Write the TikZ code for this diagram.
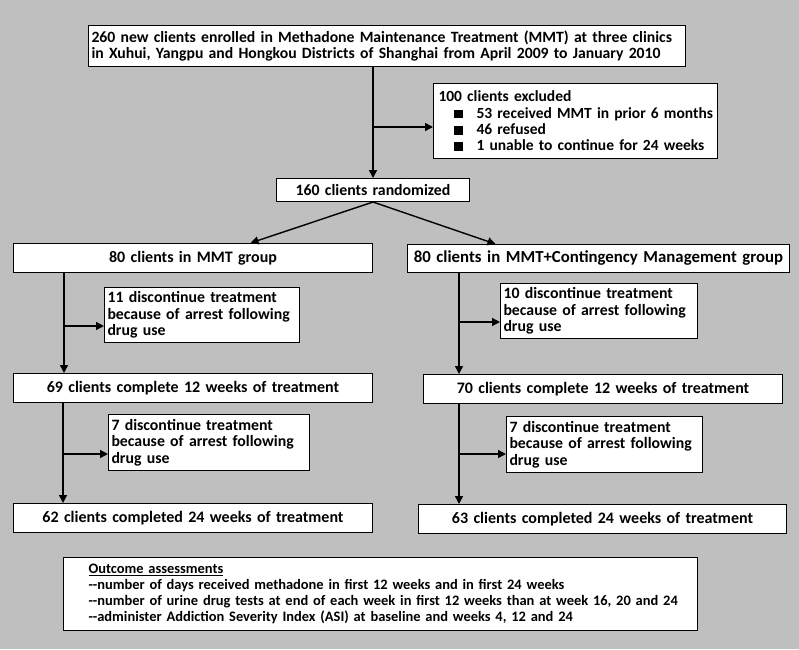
\documentclass[tikz,border=0pt]{standalone}
\usepackage{fontspec}
\setmainfont{Carlito}
\usetikzlibrary{arrows.meta}
\definecolor{bg}{RGB}{191,191,191}
\begin{document}
\begin{tikzpicture}[x=1pt,y=-1pt,
  box/.style={draw=black, fill=white, line width=1pt, inner xsep=3pt, inner ysep=0pt, anchor=north west, font=\bfseries\fontsize{15.8}{16.6}\selectfont},
  grp/.style={box, align=center, font=\bfseries\fontsize{16}{17}\selectfont},
  arr/.style={line width=1.4pt, -{Triangle[length=8pt,width=8pt]}}]
\fill[bg] (0,0) rectangle (799,649);
\useasboundingbox (0,0) rectangle (799,649);

\node[box, minimum width=597pt, minimum height=41pt, text width=591pt, align=left, font=\bfseries\fontsize{15.7}{16.7}\selectfont] (top) at (88,25)
 {260 new clients enrolled in Methadone Maintenance Treatment (MMT) at three clinics\\in Xuhui, Yangpu and Hongkou Districts of Shanghai from April 2009 to January 2010};

\newcommand{\sqbul}{\makebox[43pt][l]{\hspace*{20pt}\rule{9pt}{8.5pt}}}
\node[box, inner xsep=0pt, minimum width=284pt, minimum height=75pt, text width=284pt, align=left, font=\bfseries\fontsize{15.5}{16.3}\selectfont] (excl) at (433,83)
 {\hspace*{5pt}100 clients excluded\\
 \sqbul 53 received MMT in prior 6 months\\
 \sqbul 46 refused\\
 \sqbul 1 unable to continue for 24 weeks};

\node[box, minimum width=193pt, minimum height=23pt, text width=187pt, align=center] (rand) at (276,178) {160 clients randomized};

\node[grp, minimum width=359pt, minimum height=29pt, text width=353pt] (mmt) at (13,243) {80 clients in MMT group};
\node[grp, minimum width=382pt, minimum height=28pt, text width=376pt, font=\bfseries\fontsize{16.8}{17}\selectfont] (cm) at (407,244) {80 clients in MMT+Contingency Management group};

\node[box, minimum width=195pt, minimum height=55pt, text width=189pt, align=left] (d1L) at (104,287)
 {11 discontinue treatment\\because of arrest following\\drug use};
\node[box, minimum width=197pt, minimum height=55pt, text width=191pt, align=left] (d1R) at (500,283)
 {10 discontinue treatment\\because of arrest following\\drug use};

\node[grp, minimum width=359pt, minimum height=29pt, text width=353pt] (c12L) at (13,373) {69 clients complete 12 weeks of treatment};
\node[grp, minimum width=359pt, minimum height=29pt, text width=353pt] (c12R) at (423,374) {70 clients complete 12 weeks of treatment};

\node[box, minimum width=201pt, minimum height=56pt, text width=195pt, align=left] (d2L) at (108,414)
 {7 discontinue treatment\\because of arrest following\\drug use};
\node[box, minimum width=196pt, minimum height=56pt, text width=190pt, align=left] (d2R) at (506,416)
 {7 discontinue treatment\\because of arrest following\\drug use};

\node[grp, minimum width=359pt, minimum height=29pt, text width=353pt] (c24L) at (13,503) {62 clients completed 24 weeks of treatment};
\node[grp, minimum width=368pt, minimum height=29pt, text width=362pt] (c24R) at (418,504) {63 clients completed 24 weeks of treatment};

\node[box, minimum width=634pt, minimum height=73pt, text width=628pt, align=left, font=\bfseries\fontsize{14.45}{15.9}\selectfont] (out) at (63,557)
 {\hspace*{22pt}\underline{Outcome assessments}\\
 \hspace*{22pt}-{}-number of days received methadone in first 12 weeks and in first 24 weeks\\
 \hspace*{22pt}-{}-number of urine drug tests at end of each week in first 12 weeks than at week 16, 20 and 24\\
 \hspace*{22pt}-{}-administer Addiction Severity Index (ASI) at baseline and weeks 4, 12 and 24};

% connectors
\draw[arr] (top.south -| rand.north) -- (rand.north);
\coordinate (j1) at (372.5,127);
\draw[arr] (j1) -- (j1 -| excl.west);
\draw[arr] (rand.south) -- ([xshift=57.5pt]mmt.north);
\draw[arr] (rand.south) -- ([xshift=-103pt]cm.north);

\draw[arr] ([xshift=51pt]mmt.south west) -- ([xshift=51pt]c12L.north west);
\coordinate (j2) at (64,326);
\draw[arr] (j2) -- (j2 -| d1L.west);
\draw[arr] ([xshift=52pt]cm.south west) -- ([xshift=36pt]c12R.north west);
\coordinate (j3) at (459,322);
\draw[arr] (j3) -- (j3 -| d1R.west);

\draw[arr] ([xshift=50pt]c12L.south west) -- ([xshift=50pt]c24L.north west);
\coordinate (j4) at (63,454);
\draw[arr] (j4) -- (j4 -| d2L.west);
\draw[arr] ([xshift=36pt]c12R.south west) -- ([xshift=41pt]c24R.north west);
\coordinate (j5) at (459,454);
\draw[arr] (j5) -- (j5 -| d2R.west);
\end{tikzpicture}
\end{document}
